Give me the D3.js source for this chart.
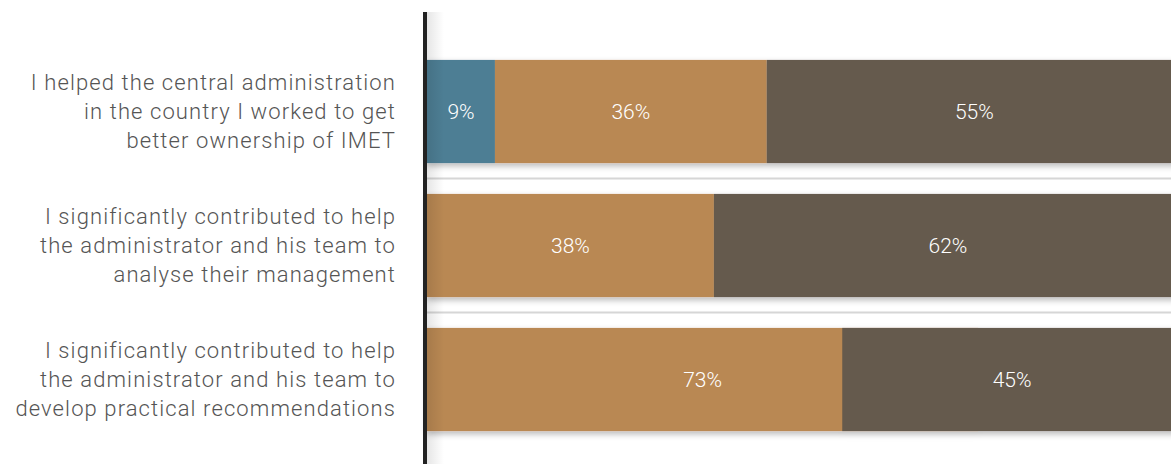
<!DOCTYPE html>
<html>
<head>
<meta charset="utf-8">
<script src="https://cdn.jsdelivr.net/npm/d3@7"></script>
<style>
  body { margin: 0; background: #fff; }
  svg { display: block; font-family: Roboto, "Liberation Sans", sans-serif; }
</style>
</head>
<body>
<svg id="drawing_region"></svg>
<script>
// statements shown on the left
var statements = [
    ["I helped the central administration", "in the country I worked to get", "better ownership of IMET"],
    ["I significantly contributed to help", "the administrator and his team to", "analyse their management"],
    ["I significantly contributed to help", "the administrator and his team to", "develop practical recommendations"]
];
var series = ["blue", "tan", "dark"];
var colors = ["#4e7e94", "#b98853", "#655a4e"];
// segment values per row (widths as drawn)
var blue_values = [9, 0, 0];
var tan_values  = [36, 38, 73];
var dark_values = [55, 62, 45];

var config = {
    width: 1171,
    height: 464,
    margin: {top: 12, right: -11, bottom: 0, left: 427}
};

var svg = d3.select('#drawing_region')
    .attr('width', config.width)
    .attr('height', config.height);

var defs = svg.append('defs');
defs.append('filter')
    .attr('id', 'shadow')
    .attr('x', '-5%').attr('y', '-20%').attr('width', '110%').attr('height', '150%')
    .append('feDropShadow')
    .attr('dx', 0).attr('dy', 3).attr('stdDeviation', 3)
    .attr('flood-color', '#000').attr('flood-opacity', 0.28);

var grad = defs.append('linearGradient').attr('id', 'axis_shade');
grad.append('stop').attr('offset', '0%').attr('stop-color', '#000').attr('stop-opacity', 0.10);
grad.append('stop').attr('offset', '100%').attr('stop-color', '#000').attr('stop-opacity', 0);

var xscale = d3.scaleLinear()
    .domain([0, 100])
    .range([config.margin.left, config.width - config.margin.right]);

var yscale = d3.scaleBand()
    .domain(d3.range(statements.length))
    .range([44.5, 446.5])
    .paddingInner(0.23)
    .paddingOuter(0.115);

// build rows of segments; a segment never runs past 100
var rows = statements.map((s, i) => {
    var vals = [blue_values[i], tan_values[i], dark_values[i]];
    var acc = 0;
    var segs = [];
    vals.forEach((v, k) => {
        if (v > 0) {
            var start = Math.min(acc, 100 - v);
            segs.push({row: i, key: series[k], value: v, start: start});
        }
        acc += v;
    });
    return segs;
});

// separator lines
svg.selectAll('.sep')
    .data(d3.range(statements.length - 1))
    .join('line')
    .attr('x1', config.margin.left)
    .attr('x2', config.width)
    .attr('y1', i => yscale(i) + yscale.bandwidth() + yscale.step() * 0.23 / 2)
    .attr('y2', i => yscale(i) + yscale.bandwidth() + yscale.step() * 0.23 / 2)
    .attr('stroke', '#d6d6d6')
    .attr('stroke-width', 2);

var bars = svg.selectAll('.row')
    .data(rows)
    .join('g')
    .attr('filter', 'url(#shadow)');

bars.selectAll('rect')
    .data(d => d)
    .join('rect')
    .attr('x', d => xscale(d.start))
    .attr('y', d => yscale(d.row))
    .attr('width', d => xscale(d.start + d.value) - xscale(d.start))
    .attr('height', yscale.bandwidth())
    .attr('fill', d => colors[series.indexOf(d.key)]);

svg.selectAll('.val')
    .data(rows.flat())
    .join('text')
    .attr('x', d => (xscale(d.start) + xscale(d.start + d.value)) / 2)
    .attr('y', d => yscale(d.row) + yscale.bandwidth() / 2)
    .attr('dy', '0.35em')
    .attr('text-anchor', 'middle')
    .attr('fill', '#fff')
    .attr('font-size', '21px')
    .attr('font-weight', 300)
    .text(d => d.value + '%');

// shade right of the axis
svg.append('rect')
    .attr('x', config.margin.left)
    .attr('y', config.margin.top)
    .attr('width', 17)
    .attr('height', config.height - config.margin.top)
    .attr('fill', 'url(#axis_shade)');

// axis line
svg.append('line')
    .attr('x1', config.margin.left - 2)
    .attr('x2', config.margin.left - 2)
    .attr('y1', config.margin.top)
    .attr('y2', config.height)
    .attr('stroke', '#222')
    .attr('stroke-width', 4);

// statement labels
var labels = svg.selectAll('.stmt')
    .data(statements)
    .join('text')
    .attr('text-anchor', 'end')
    .attr('fill', '#555')
    .attr('font-size', '22px')
    .attr('font-weight', 300)
    .attr('letter-spacing', '1.1px')
    .attr('transform', (d, i) => `translate(396, ${yscale(i) + yscale.bandwidth() / 2})`);

labels.selectAll('tspan')
    .data(d => d)
    .join('tspan')
    .attr('x', 0)
    .attr('y', (d, k, arr) => (k - (arr.length - 1) / 2) * 29)
    .attr('dy', '0.35em')
    .text(d => d);
</script>
</body>
</html>
